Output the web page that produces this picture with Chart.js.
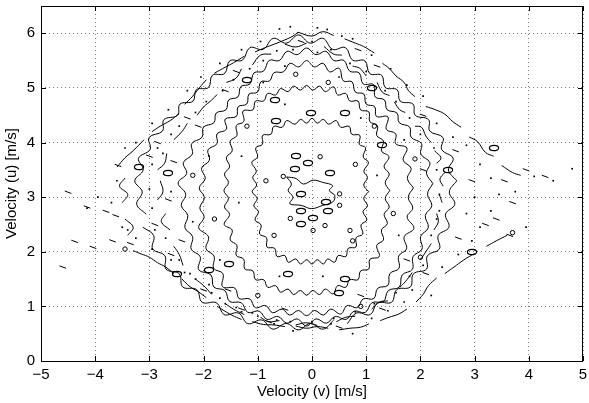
<!DOCTYPE html>
<html>
<head>
<meta charset="utf-8">
<script src="https://cdn.jsdelivr.net/npm/chart.js@4/dist/chart.umd.min.js"></script>
<style>
  html, body { margin: 0; background: #fff; }
</style>
</head>
<body>
<canvas id="grafico" width="589" height="403"></canvas>
<script>
// tick labels
const xTicks = [-5, -4, -3, -2, -1, 0, 1, 2, 3, 4, 5];
const yTicks = [0, 1, 2, 3, 4, 5, 6];

// contour lines, [v, u] in m/s, inner to outer
const contourCore = [[-0.47,3.37],[-0.38,3.24],[-0.44,3.12],[-0.35,3.0],[-0.41,2.88],[-0.2,2.85],[-0.01,2.79],[0.2,2.85],
  [0.38,2.91],[0.42,3.03],[0.32,3.12],[0.38,3.21],[0.2,3.27],[0.02,3.31],[-0.16,3.24],[-0.29,3.34]];

const contourA = [[1.045,3.1],[0.955,3.222],[1.024,3.359],[0.957,3.475],[1.042,3.637],[0.944,3.734],[0.987,3.905],[0.873,3.968],
  [0.882,4.132],[0.733,4.153],[0.685,4.297],[0.529,4.279],[0.447,4.402],[0.305,4.336],[0.209,4.424],[0.097,4.355],
  [0.0,4.445],[-0.097,4.355],[-0.209,4.424],[-0.315,4.336],[-0.467,4.402],[-0.549,4.279],[-0.705,4.297],[-0.758,4.153],
  [-0.912,4.132],[-0.913,3.968],[-1.037,3.905],[-1.004,3.734],[-1.112,3.637],[-1.027,3.475],[-1.094,3.359],[-1.02,3.222],
  [-1.105,3.1],[-1.01,2.978],[-1.074,2.841],[-0.987,2.735],[-1.052,2.583],[-0.939,2.491],[-0.967,2.325],[-0.838,2.257],
  [-0.832,2.088],[-0.688,2.062],[-0.645,1.913],[-0.503,1.931],[-0.437,1.808],[-0.3,1.869],[-0.209,1.776],[-0.097,1.855],
  [0.0,1.775],[0.097,1.855],[0.209,1.776],[0.29,1.869],[0.417,1.808],[0.483,1.931],[0.625,1.913],[0.668,2.062],
  [0.812,2.088],[0.813,2.257],[0.937,2.325],[0.904,2.491],[1.012,2.583],[0.941,2.735],[1.024,2.841],[0.955,2.978]];

const contourB = [[1.435,3.12],[1.351,3.265],[1.425,3.422],[1.33,3.556],[1.42,3.74],[1.281,3.847],[1.319,4.027],[1.195,4.128],
  [1.207,4.311],[1.067,4.384],[1.049,4.561],[0.897,4.599],[0.849,4.759],[0.695,4.762],[0.623,4.9],[0.474,4.871],
  [0.4,5.02],[0.244,4.933],[0.141,5.033],[0.014,4.96],[-0.1,5.045],[-0.213,4.96],[-0.339,5.033],[-0.442,4.933],
  [-0.581,4.988],[-0.67,4.871],[-0.818,4.9],[-0.89,4.762],[-1.043,4.759],[-1.09,4.599],[-1.27,4.58],[-1.259,4.384],
  [-1.398,4.311],[-1.386,4.128],[-1.51,4.027],[-1.472,3.847],[-1.58,3.727],[-1.52,3.556],[-1.615,3.422],[-1.541,3.265],
  [-1.625,3.12],[-1.541,2.976],[-1.615,2.819],[-1.52,2.686],[-1.62,2.5],[-1.472,2.397],[-1.51,2.218],[-1.386,2.118],
  [-1.398,1.935],[-1.259,1.863],[-1.241,1.686],[-1.09,1.649],[-1.043,1.489],[-0.89,1.487],[-0.818,1.349],[-0.67,1.379],
  [-0.581,1.261],[-0.442,1.317],[-0.339,1.217],[-0.213,1.291],[-0.1,1.205],[0.014,1.291],[0.141,1.217],[0.244,1.317],
  [0.39,1.23],[0.474,1.379],[0.623,1.349],[0.695,1.487],[0.849,1.489],[0.897,1.649],[1.049,1.686],[1.067,1.863],
  [1.24,1.91],[1.195,2.118],[1.319,2.218],[1.281,2.397],[1.39,2.516],[1.33,2.686],[1.425,2.819],[1.351,2.976]];

const contourC = [[1.87,3.17],[1.76,3.343],[1.828,3.53],[1.682,3.677],[1.75,3.9],[1.544,3.979],[1.544,4.16],[1.372,4.242],
  [1.4,4.47],[1.188,4.479],[1.157,4.656],[0.999,4.705],[0.956,4.888],[0.8,4.924],[0.738,5.113],[0.579,5.129],
  [0.5,5.36],[0.326,5.294],[0.205,5.45],[0.046,5.386],[-0.1,5.5],[-0.246,5.386],[-0.406,5.45],[-0.528,5.294],
  [-0.7,5.28],[-0.783,5.129],[-0.942,5.113],[-1.005,4.924],[-1.161,4.888],[-1.204,4.705],[-1.363,4.656],[-1.394,4.479],
  [-1.6,4.43],[-1.58,4.242],[-1.752,4.16],[-1.753,3.979],[-1.92,3.865],[-1.892,3.677],[-2.038,3.53],[-1.97,3.343],
  [-2.08,3.17],[-1.986,2.993],[-2.07,2.802],[-1.99,2.64],[-2.09,2.44],[-1.911,2.275],[-1.955,2.053],[-1.808,1.922],
  [-1.814,1.697],[-1.644,1.6],[-1.65,1.36],[-1.42,1.332],[-1.346,1.143],[-1.149,1.137],[-1.045,0.978],[-0.853,1.015],
  [-0.728,0.884],[-0.549,0.95],[-0.411,0.841],[-0.249,0.925],[-0.1,0.83],[0.048,0.925],[0.21,0.841],[0.347,0.95],
  [0.53,0.86],[0.649,1.015],[0.84,0.978],[0.943,1.137],[1.14,1.143],[1.213,1.332],[1.401,1.386],[1.436,1.6],
  [1.606,1.697],[1.599,1.922],[1.745,2.053],[1.701,2.275],[1.88,2.43],[1.755,2.636],[1.86,2.802],[1.776,2.993]];

const contourD = [[2.23,3.25],[2.113,3.434],[2.174,3.632],[2.009,3.787],[2.019,3.982],[1.828,4.098],[1.803,4.282],[1.609,4.364],
  [1.568,4.539],[1.385,4.602],[1.337,4.78],[1.167,4.835],[1.14,5.06],[0.944,5.074],[0.87,5.276],[0.695,5.307],
  [0.588,5.505],[0.404,5.5],[0.26,5.669],[0.073,5.61],[-0.1,5.73],[-0.273,5.61],[-0.46,5.669],[-0.604,5.5],
  [-0.788,5.505],[-0.895,5.307],[-1.07,5.276],[-1.144,5.074],[-1.312,5.025],[-1.367,4.835],[-1.537,4.78],[-1.585,4.602],
  [-1.768,4.539],[-1.809,4.364],[-2.003,4.282],[-2.028,4.098],[-2.219,3.982],[-2.209,3.787],[-2.374,3.632],[-2.313,3.434],
  [-2.47,3.26],[-2.331,3.055],[-2.411,2.845],[-2.291,2.664],[-2.346,2.442],[-2.204,2.279],[-2.229,2.048],[-2.064,1.911],
  [-2.09,1.67],[-1.864,1.575],[-1.811,1.354],[-1.607,1.289],[-1.519,1.089],[-1.305,1.067],[-1.185,0.892],[-0.974,0.911],
  [-0.83,0.763],[-0.627,0.815],[-0.465,0.692],[-0.276,0.771],[-0.1,0.64],[0.076,0.771],[0.265,0.692],[0.427,0.815],
  [0.63,0.763],[0.774,0.911],[0.985,0.892],[1.105,1.067],[1.319,1.089],[1.407,1.289],[1.611,1.354],[1.664,1.575],
  [1.852,1.679],[1.864,1.911],[2.029,2.048],[2.004,2.279],[2.146,2.442],[2.091,2.664],[2.211,2.845],[2.131,3.055]];

const contourE = [[2.67,3.3],[2.517,3.497],[2.603,3.712],[2.392,3.874],[2.415,4.092],[2.173,4.21],[2.151,4.419],[1.905,4.499],
  [1.863,4.704],[1.627,4.758],[1.572,4.966],[1.352,5.008],[1.285,5.232],[1.067,5.262],[0.974,5.497],[0.75,5.507],
  [0.617,5.738],[0.381,5.706],[0.201,5.908],[-0.034,5.82],[-0.25,5.97],[-0.474,5.82],[-0.716,5.908],[-0.903,5.706],
  [-1.146,5.738],[-1.285,5.507],[-1.516,5.497],[-1.615,5.262],[-1.838,5.232],[-1.91,5.008],[-2.135,4.966],[-2.194,4.758],
  [-2.435,4.704],[-2.482,4.499],[-2.733,4.419],[-2.759,4.21],[-3.006,4.092],[-2.987,3.874],[-3.201,3.712],[-3.116,3.497],
  [-3.27,3.3],[-3.133,3.095],[-3.234,2.871],[-3.061,2.689],null,[-3.122,2.45],[-2.921,2.297],[-2.94,2.051],[-2.715,1.93],
  [-2.694,1.683],[-2.449,1.597],[-2.385,1.356],[-2.129,1.307],[-2.026,1.075],[-1.761,1.065],[-1.621,0.85],[-1.357,0.878],
  [-1.184,0.684],[-0.924,0.751],[-0.721,0.584],[-0.476,0.687],[-0.25,0.57],[-0.032,0.687],[0.206,0.584],[0.401,0.751],null,
  [0.653,0.684],[0.819,0.878],[1.076,0.85],[1.209,1.065],[1.467,1.075],[1.564,1.307],[1.814,1.356],[1.873,1.597],
  [2.113,1.683],[2.13,1.93],[2.351,2.051],[2.329,2.297],[2.527,2.45],[2.464,2.689],[2.635,2.871],[2.533,3.095]];

// broken fragments in the noisy band between D and E (null = gap)
const bandFragments = [[2.42,3.2],[2.36,3.33],[2.45,3.45],null,[2.3,3.62],[2.38,3.72],[2.26,3.85],null,[2.2,4.0],[2.1,4.12],
  [2.02,4.28],[1.9,4.3],null,[1.72,4.55],[1.62,4.6],[1.52,4.74],null,[1.43,4.86],[1.3,4.92],[1.2,5.1],null,[1.0,5.22],
  [0.88,5.36],[0.75,5.4],null,[0.55,5.6],[0.4,5.62],[0.22,5.76],null,[-0.1,5.82],[-0.3,5.75],[-0.5,5.8],null,[-0.75,5.62],
  [-0.95,5.6],[-1.1,5.42],null,[-1.3,5.35],[-1.4,5.18],[-1.58,5.1],null,[-1.75,4.88],[-1.85,4.78],[-2.0,4.65],[-2.12,4.5],null,
  [-2.3,4.35],[-2.4,4.2],[-2.55,4.05],null,[-2.68,3.8],[-2.72,3.62],[-2.85,3.5],null,[-2.8,3.3],[-2.75,3.1],[-2.85,2.95],null,
  [-2.7,2.7],[-2.78,2.55],[-2.62,2.4],null,[-2.55,2.1],[-2.45,1.95],[-2.38,1.75],null,[-2.15,1.5],[-2.0,1.38],[-1.85,1.22],null,
  [-1.6,1.05],[-1.45,0.95],[-1.25,0.85],null,[-0.95,0.8],[-0.8,0.72],[-0.6,0.74],null,[-0.3,0.66],[-0.1,0.7],[0.1,0.65],null,
  [0.45,0.72],[0.62,0.8],[0.8,0.82],null,[1.1,0.95],[1.25,1.08],[1.4,1.1],null,[1.62,1.35],[1.72,1.45],[1.85,1.62],null,
  [2.0,1.85],[2.1,2.0],[2.2,2.15],null,[2.25,2.4],[2.33,2.55],[2.3,2.7],null,[2.4,2.9],[2.35,3.05]];

// broken outer fringe
const fringe = [[-0.26,6.02],[0.0,5.95],[0.2,6.03],[0.4,5.96],null,[0.6,5.9],[0.8,5.82],[0.95,5.76],[1.15,5.64],null,
  [1.3,5.45],[1.42,5.36],[1.55,5.22],[1.7,5.1],[1.78,4.95],[1.9,4.84],null,[2.1,4.66],[2.28,4.6],[2.45,4.52],
  [2.6,4.38],[2.75,4.28],null,[2.9,4.1],[3.05,4.02],[3.2,3.82],[3.35,3.75],null,[3.5,3.58],[3.7,3.45],[3.85,3.4],null,
  [3.6,2.3],[3.4,2.2],[3.22,2.1],null,[3.0,1.97],[2.8,1.85],[2.62,1.72],[2.45,1.6],null,[2.3,1.52],[2.15,1.38],
  [2.05,1.22],[1.92,1.08],null,[1.75,0.95],[1.6,0.86],[1.42,0.8],[1.26,0.74],null,[1.05,0.68],[0.9,0.62],[0.7,0.6],
  [0.5,0.57],null,[0.3,0.6],[0.1,0.63],[-0.1,0.6],[-0.3,0.64],null,[-0.5,0.63],[-0.7,0.66],[-0.9,0.67],[-1.1,0.72],null,
  [-1.3,0.76],[-1.48,0.84],[-1.62,0.92],[-1.75,1.0],null,[-1.95,1.16],[-2.1,1.27],[-2.25,1.36],[-2.4,1.5],null,
  [-2.55,1.6],[-2.7,1.72],[-2.85,1.8],[-3.0,1.9],[-3.15,1.96],[-3.3,2.02],null,[-3.4,2.3],[-3.3,2.45],[-3.45,2.6],null,
  [-3.5,2.9],[-3.4,3.05],[-3.55,3.2],[-3.45,3.35],null,[-3.6,3.55],[-3.45,3.72],[-3.3,3.85],[-3.1,4.05],null,
  [-2.95,4.2],[-2.8,4.3],[-2.62,4.4],[-2.45,4.53],null,[-2.35,4.7],[-2.2,4.85],[-2.08,5.0],[-1.95,5.15],null,
  [-1.8,5.27],[-1.6,5.38],[-1.45,5.46],[-1.25,5.58],null,[-1.05,5.66],[-0.86,5.74],[-0.7,5.8],[-0.5,5.88],[-0.35,5.95],[-0.26,6.02]];

// specks, dashes and little closed loops
const dots = [[-0.6,6.08],[-0.4,6.12],[0.1,6.1],[0.28,6.07],[0.55,5.95],[-0.95,5.85],[-1.3,5.7],[-1.7,5.45],[-2.05,5.2],
  [-2.3,4.95],[-2.65,4.6],[-2.95,4.35],[-3.25,4.0],[-3.45,3.9],[-3.6,3.3],[-3.7,2.9],[-3.5,2.45],[-3.25,2.25],[-2.95,2.05],
  [-2.6,1.85],[-2.35,1.62],[-2.15,1.5],[-1.85,1.25],[-1.6,1.05],[-1.3,0.9],[-1.0,0.82],[-0.65,0.75],[-0.35,0.55],[0.0,0.72],
  [0.35,0.68],[0.75,0.5],[1.1,0.78],[1.4,0.92],[1.7,1.08],[1.85,1.3],[2.2,1.2],[2.4,1.72],[2.7,1.95],[2.95,2.2],[3.1,2.45],
  [3.3,2.75],[3.45,3.05],[3.3,3.35],[3.1,3.6],[2.85,3.95],[2.6,4.1],[2.3,4.35],[2.05,4.85],[1.75,5.05],[1.45,5.35],[1.1,5.6],
  [0.75,5.9],[-1.9,3.75],[-2.2,2.55],[-1.7,1.85],[1.6,2.3],[1.7,4.05],[-0.9,5.1],[0.5,5.2],[-0.5,4.7],[0.9,4.45],[-1.3,3.75],
  [1.2,3.4],[-1.35,2.9],[0.2,1.55],[-0.6,1.55],[-2.6,3.1],[-2.75,3.8],[2.35,3.05],[2.3,2.6],[0.1,5.65],[-0.5,5.4],
  [4.1,3.38],[4.45,3.3],[4.8,3.52],[3.95,2.45],[3.75,3.1],[3.0,3.0],[2.85,2.7],[-4.15,2.8],[-3.4,2.4],[-3.95,3.0],
  [2.3,3.5],[2.25,3.9],[2.0,4.15],[1.8,4.45],[1.55,4.75],[1.35,4.95],[1.0,5.3],[0.7,5.45],[0.35,5.7],[0.0,5.85],
  [-0.35,5.7],[-0.65,5.68],[-0.9,5.5],[-1.15,5.35],[-1.45,5.15],[-1.65,4.95],[-1.95,4.75],[-2.15,4.55],[-2.45,4.3],
  [-2.6,4.15],[-2.85,3.9],[-2.95,3.6],[-3.0,3.15],[-2.95,2.8],[-2.9,2.4],[-2.7,2.25],[-2.45,1.85],[-2.25,1.6],[-1.9,1.4],
  [-1.7,1.15],[-1.4,0.98],[-1.1,0.88],[-0.7,0.68],[-0.4,0.72],[0.4,0.78],[0.8,0.9],[1.15,1.05],[1.55,1.25],[1.8,1.55],
  [2.05,1.75],[2.2,2.3],[2.35,2.75]];

const dashes = [[-4.6,1.72],[-4.38,2.19],[-4.04,2.08],[-3.8,2.74],[-3.62,2.66],[-3.68,2.2],[-4.5,3.09],[-3.58,3.58],
  [-4.15,2.82],[-3.35,2.15],[4.3,3.38],[3.65,2.3],[3.95,3.5],[3.55,3.3],[3.7,2.9],[3.4,2.6],[-2.9,2.5],[-2.6,1.95],
  [-2.0,1.3],[-1.3,0.95],[1.3,0.95],[2.1,1.6],[2.7,2.25],[3.2,2.5],[2.95,3.3],[2.65,3.85],[2.05,4.5],[1.2,5.4],
  [-0.2,5.85],[-1.4,5.3],[-2.3,4.45],[-3.0,3.75],[-0.8,0.72],[0.5,0.62],[-2.85,4.0],[0.85,5.7],
  [-1.6,4.95],[-2.1,4.3],[-2.55,3.65],[-2.65,2.95],[-2.4,2.2],[-1.55,1.3],[-0.5,0.95],[0.9,1.2],[1.75,1.85],[2.05,3.5]];

const bigLoops = [[-0.29,3.76],[-0.07,3.63],[-0.31,3.52],[0.33,3.45],[-0.2,3.06],[0.26,2.92],[-0.2,2.75],[0.29,2.75],
  [0.02,2.61],[-0.2,2.51],[-0.02,4.55],[-0.68,4.77],[-0.66,4.4],[0.6,4.55],[-1.54,1.78],[-1.9,1.66],[-0.44,1.6],
  [0.6,1.5],[1.3,3.95],[-2.65,3.45],[-3.2,3.55],[2.95,2.0],[3.35,3.9],[-1.2,5.15],[1.1,5.0],[0.5,1.25],[-2.5,1.6],[2.5,3.5]];

const smallLoops = [[0.15,3.74],[-0.53,3.38],[0.51,3.06],[0.51,2.85],[-0.4,2.61],[0.24,2.48],[0.7,2.39],[0.02,2.39],
  [0.8,3.6],[-0.85,3.3],[0.75,2.2],[-0.7,2.3],[1.15,4.3],[-1.2,4.3],[1.5,2.7],[-1.8,2.6],[0.3,5.1],[-0.3,5.25],
  [1.9,3.7],[-2.2,3.4],[2.0,1.9],[-1.0,1.2],[0.9,1.0],[-3.45,2.05],[3.7,2.35]];

const FONT = { family: '"Liberation Sans", Arial, Helvetica, sans-serif', size: 15 };

function pts(list) {
    return list.map(p => p ? { x: p[0], y: p[1] } : { x: null, y: null });
}

function contour(list, closed) {
    const data = pts(list);
    if (closed) data.push({ x: list[0][0], y: list[0][1] });
    return {
        data: data,
        showLine: true,
        borderColor: '#000',
        borderWidth: 1,
        pointRadius: 0,
        tension: 0.4,
        spanGaps: false
    };
}

// small horizontal ellipse used for the closed blobs
const blob = document.createElement('canvas');
blob.width = 12; blob.height = 8;
(function () {
    const c = blob.getContext('2d');
    c.strokeStyle = '#000';
    c.lineWidth = 1.2;
    c.beginPath();
    c.ellipse(6, 4, 4.6, 2.7, 0, 0, Math.PI * 2);
    c.stroke();
})();

const minus = v => (v < 0 ? '\u2212' + Math.abs(v) : String(v));

// keep the blob images crisp
const crisp = {
    id: 'crisp',
    beforeDatasetsDraw(chart) { chart.ctx.imageSmoothingEnabled = false; }
};

// frame and inward tick marks
const frame = {
    id: 'frame',
    afterDraw(chart) {
        const { ctx, chartArea: a, scales } = chart;
        ctx.save();
        ctx.strokeStyle = '#000';
        ctx.lineWidth = 1;
        ctx.beginPath();
        xTicks.forEach(v => {
            const px = Math.round(scales.x.getPixelForValue(v)) + 0.5;
            ctx.moveTo(px, a.bottom); ctx.lineTo(px, a.bottom - 5);
            ctx.moveTo(px, a.top); ctx.lineTo(px, a.top + 5);
        });
        yTicks.forEach(v => {
            const py = Math.round(scales.y.getPixelForValue(v)) + 0.5;
            ctx.moveTo(a.left, py); ctx.lineTo(a.left + 5, py);
            ctx.moveTo(a.right, py); ctx.lineTo(a.right - 5, py);
        });
        ctx.stroke();
        ctx.strokeRect(Math.round(a.left) + 0.5, Math.round(a.top) + 0.5,
            Math.round(a.right - a.left) - 1, Math.round(a.bottom - a.top));
        ctx.restore();
    }
};

const ctx = document.getElementById('grafico').getContext('2d');
new Chart(ctx, {
    type: 'scatter',
    data: {
        datasets: [
            contour(contourCore, true),
            contour(contourA, true),
            contour(contourB, true),
            contour(contourC, true),
            contour(contourD, true),
            contour(contourE, true),
            contour(bandFragments, false),
            contour(fringe, false),
            { data: pts(dots), pointStyle: 'rect', pointRadius: 1.2, pointBackgroundColor: '#000', pointBorderColor: '#000', pointBorderWidth: 0 },
            { data: pts(dashes), pointStyle: 'line', pointRadius: 3.5, pointRotation: 20, pointBorderColor: '#000', pointBorderWidth: 1 },
            { data: pts(bigLoops), pointStyle: blob, pointRadius: 5 },
            { data: pts(smallLoops), pointStyle: 'circle', pointRadius: 2.2, pointBackgroundColor: 'rgba(0,0,0,0)', pointBorderColor: '#000', pointBorderWidth: 1 }
        ]
    },
    options: {
        responsive: false,
        animation: false,
        events: [],
        layout: { padding: { top: 5, right: 2, left: 0, bottom: 0 } },
        plugins: { legend: { display: false }, tooltip: { enabled: false } },
        scales: {
            x: {
                type: 'linear',
                min: -5,
                max: 5,
                afterBuildTicks: s => { s.ticks = xTicks.map(v => ({ value: v })); },
                afterFit: s => { s.height = 42; s.paddingLeft = 0; s.paddingRight = 0; },
                grid: { color: '#7a7a7a', lineWidth: 1, drawTicks: false },
                border: { display: false, dash: [1, 3] },
                ticks: { color: '#000', font: FONT, padding: 5, maxRotation: 0, autoSkip: false, callback: v => minus(v) },
                title: { display: true, text: 'Velocity (v) [m/s]', color: '#000', font: FONT, padding: { top: 0, bottom: 2 } }
            },
            y: {
                type: 'linear',
                min: 0,
                max: 6.5,
                afterBuildTicks: s => { s.ticks = yTicks.map(v => ({ value: v })); },
                afterFit: s => { s.width = 41; s.paddingTop = 0; s.paddingBottom = 0; },
                grid: { color: '#7a7a7a', lineWidth: 1, drawTicks: false },
                border: { display: false, dash: [1, 3] },
                ticks: { color: '#000', font: FONT, padding: 6, autoSkip: false, callback: v => minus(v) },
                title: { display: true, text: 'Velocity (u) [m/s]', color: '#000', font: FONT, padding: { top: 3, bottom: 0 } }
            }
        }
    },
    plugins: [crisp, frame]
});
</script>
</body>
</html>
